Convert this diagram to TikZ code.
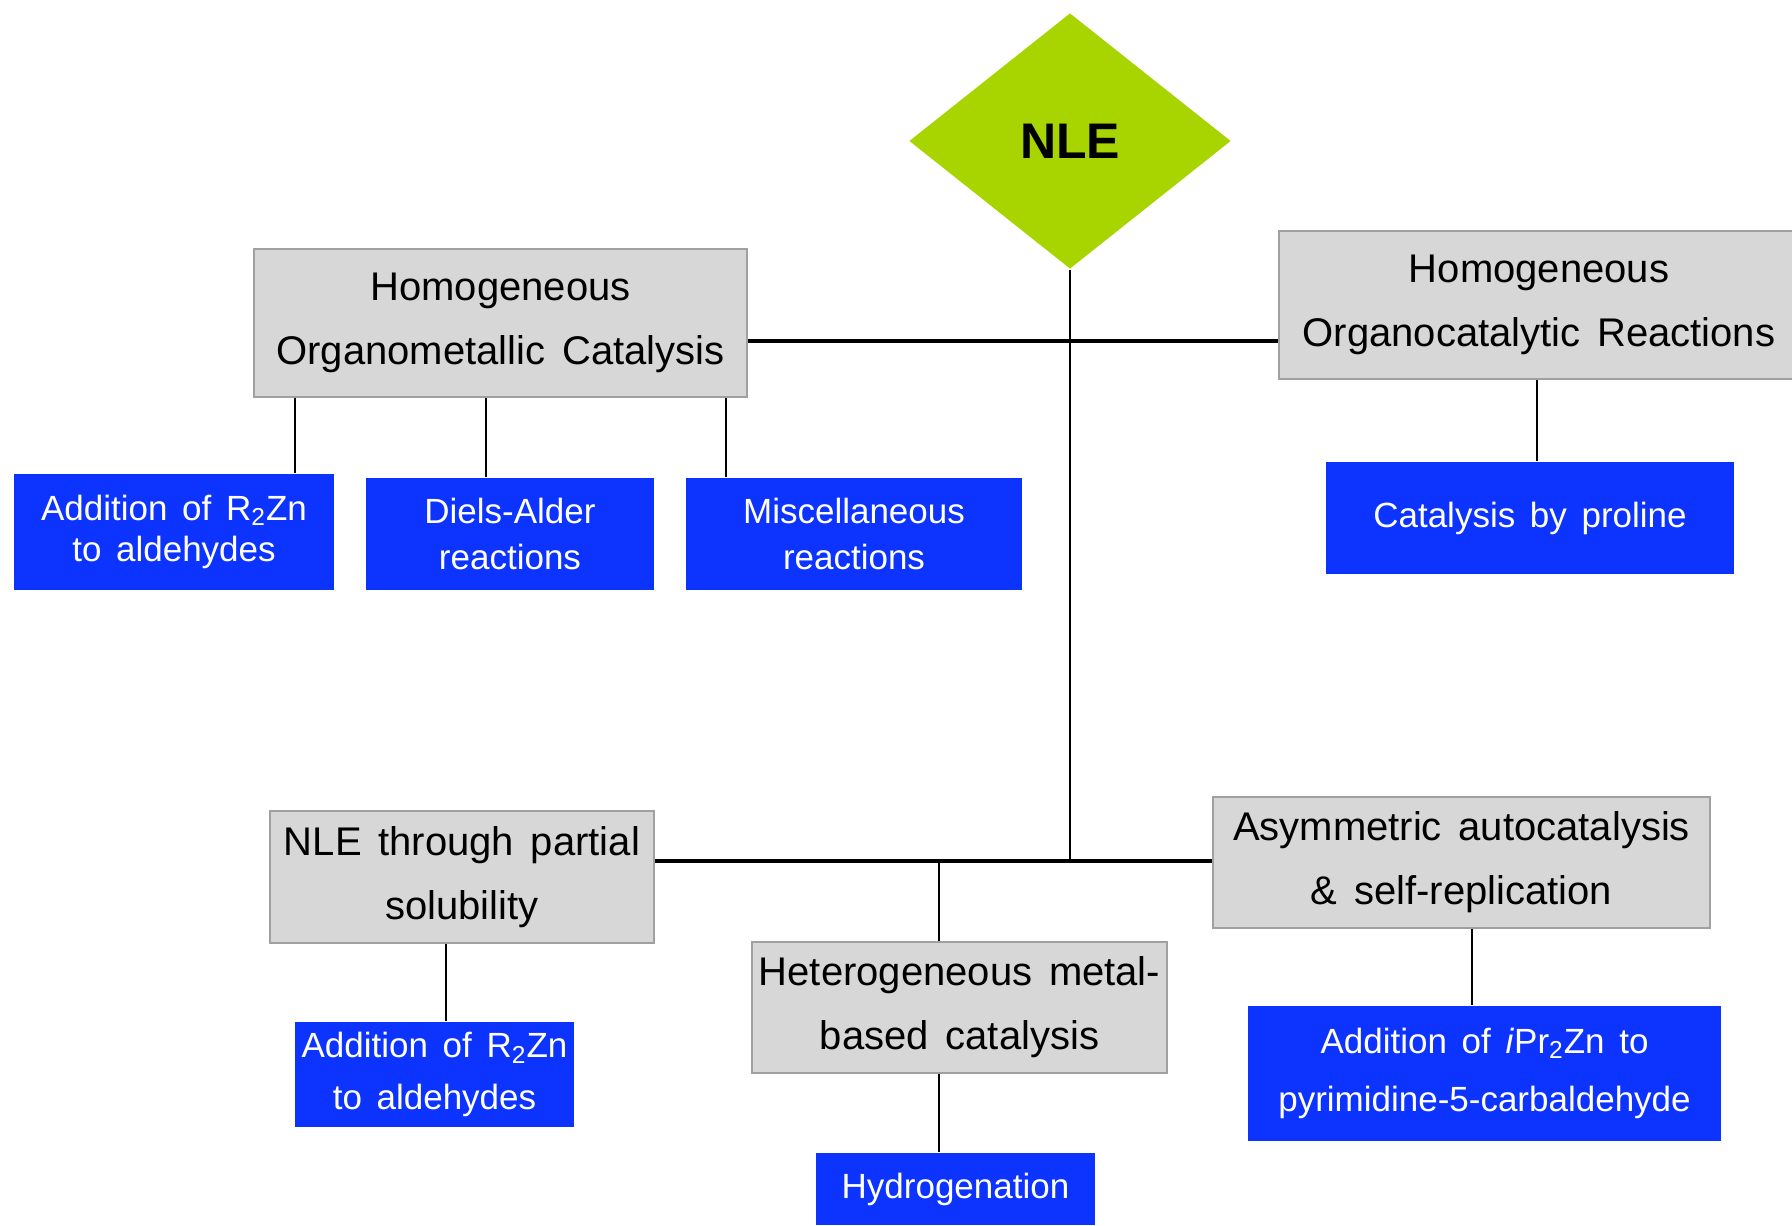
\documentclass[tikz,border=0pt]{standalone}
\usepackage{fontspec}
\setmainfont{Liberation Sans}
\usetikzlibrary{shapes.geometric}

\definecolor{nlegreen}{RGB}{168,212,0}
\definecolor{boxblue}{RGB}{13,51,255}
\definecolor{boxgray}{RGB}{215,215,215}
\definecolor{rimgray}{RGB}{160,160,160}

\tikzset{every picture/.style={line width=1pt}}
\tikzset{
  graybox/.style={draw=rimgray, line width=0.8pt, fill=boxgray, inner sep=0pt, align=center,
    font=\fontsize{20}{32}\selectfont, execute at begin node={\spaceskip=0.42em\relax}},
  bluebox/.style={fill=boxblue, text=white, inner sep=0pt, align=center,
    font=\fontsize{17.5}{23.4}\selectfont, execute at begin node={\spaceskip=0.42em\relax}},
  thick link/.style={line width=1.8pt},
}

\begin{document}
\begin{tikzpicture}[x=0.5pt,y=-0.5pt]
\useasboundingbox (0,0) rectangle (1792,1225);

% Diamond
\node (nle) [diamond, fill=nlegreen, minimum width=161pt, minimum height=128pt, inner sep=0pt, font=\fontsize{25}{30}\selectfont\bfseries] at (1070,141) {NLE};

% Text Node
\node (hom) [graybox, minimum width=246.5pt, minimum height=74pt] at (500.5,323) {Homogeneous\\Organometallic Catalysis};
% Text Node
\node (org) [graybox, minimum width=260pt, minimum height=74pt] at (1539,305) {Homogeneous\\Organocatalytic Reactions};
% Text Node
\node (nlp) [graybox, minimum width=192pt, minimum height=66pt] at (462,877) {NLE through partial\\solubility};
% Text Node
\node (het) [graybox, minimum width=207.5pt, minimum height=65.5pt] at (959.5,1007.5) {Heterogeneous metal-\\based catalysis};
% Text Node
\node (asy) [graybox, minimum width=248.5pt, minimum height=65.5pt] at (1461.5,862.5) {Asymmetric autocatalysis\\\& self-replication};

% Text Node
\node (zna) [bluebox, minimum width=160pt, minimum height=58pt, font=\fontsize{17.5}{20.6}\selectfont] at (174,532) {Addition of R\textsubscript{2}Zn\\to aldehydes};
% Text Node
\node (dal) [bluebox, minimum width=144pt, minimum height=56pt] at (510,534) {Diels-Alder\\reactions};
% Text Node
\node (mis) [bluebox, minimum width=168pt, minimum height=56pt] at (854,534) {Miscellaneous\\reactions};
% Text Node
\node (pro) [bluebox, minimum width=204pt, minimum height=56pt] at (1530,518) {Catalysis by proline};
% Text Node
\node (znb) [bluebox, minimum width=139.5pt, minimum height=52.5pt, font=\fontsize{17.5}{25.7}\selectfont] at (434.5,1074.5) {Addition of R\textsubscript{2}Zn\\to aldehydes};
% Text Node
\node (hyd) [bluebox, minimum width=139.5pt, minimum height=36pt] at (955.5,1189) {Hydrogenation};
% Text Node
\node (pyr) [bluebox, minimum width=236.5pt, minimum height=67.5pt, font=\fontsize{17.5}{29}\selectfont] at (1484.5,1073.5) {Addition of \textit{i}Pr\textsubscript{2}Zn to\\pyrimidine-5-carbaldehyde};

% Junctions
\coordinate (top) at (0,341);
\coordinate (bot) at (1070,861);
\coordinate (ta) at (295,0);
\coordinate (tb) at (486,0);
\coordinate (tc) at (726,0);
\coordinate (td) at (939,0);
\coordinate (te) at (1537,0);
\coordinate (tf) at (446,0);
\coordinate (tg) at (1472,0);

%Straight Lines
\draw (nle.south) -- (bot);
\draw [thick link] (hom.east |- top) -- (org.west |- top);
\draw [thick link] (nlp.east |- bot) -- (asy.west |- bot);

%Straight Lines
\draw (hom.south -| ta) -- (zna.north -| ta);
\draw (hom.south -| tb) -- (dal.north -| tb);
\draw (hom.south -| tc) -- (mis.north -| tc);
\draw (org.south -| te) -- (pro.north -| te);

%Straight Lines
\draw (bot -| td) -- (het.north -| td);
\draw (het.south -| td) -- (hyd.north -| td);
\draw (nlp.south -| tf) -- (znb.north -| tf);
\draw (asy.south -| tg) -- (pyr.north -| tg);

\end{tikzpicture}
\end{document}
